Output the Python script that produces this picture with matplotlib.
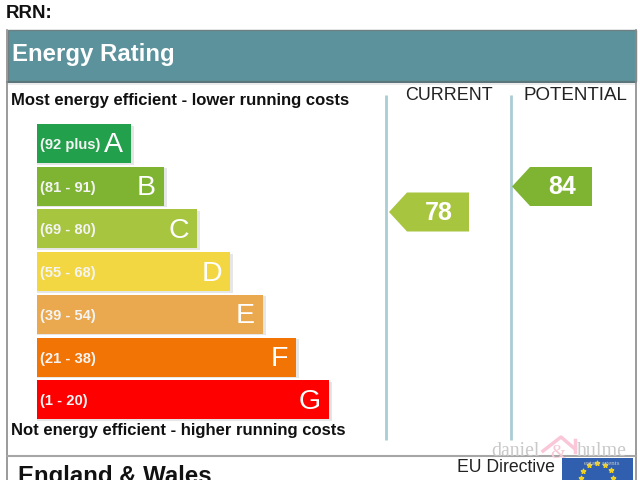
import matplotlib
matplotlib.use('Agg')
import matplotlib.pyplot as plt
import numpy as np
from matplotlib.patches import Polygon, Rectangle

# EPC bands
ranges = ['(92 plus)', '(81 - 91)', '(69 - 80)', '(55 - 68)', '(39 - 54)', '(21 - 38)', '(1 - 20)']
letters = ['A', 'B', 'C', 'D', 'E', 'F', 'G']
bar_ends = [131, 164, 197, 230, 263, 296, 329]
bar_colors = ['#23a04c', '#7fb433', '#a8c540', '#f2d743', '#eaa94e', '#f17405', '#fe0000']

# ratings
rating_names = ['CURRENT', 'POTENTIAL']
rating_values = [78, 84]
rating_colors = ['#a8c540', '#7fb433']

plt.rcParams['font.family'] = ['Liberation Sans', 'DejaVu Sans']

fig = plt.figure(figsize=(6.4, 4.8), dpi=100)
ax = fig.add_axes([0, 0, 1, 1])
ax.set_xlim(0, 640)
ax.set_ylim(480, 0)
ax.axis('off')

# frame and header
ax.text(6, 13.5, 'RRN:', fontsize=13.4, fontweight='bold', va='center', color='#111111')
ax.add_patch(Rectangle((7.5, 30), 628, 51, fc='#5b929c', ec='#6f7f82', lw=1))
ax.add_patch(Rectangle((8, 81), 628, 4, fc='#ececec', ec='none'))
ax.plot([7, 636], [81.5, 81.5], color='#3f5f64', lw=1.2)
ax.plot([7, 7], [30, 480], color='#8a8a8a', lw=1.2)
ax.plot([636, 636], [30, 480], color='#8a8a8a', lw=1.2)
ax.plot([7, 636], [456, 456], color='#a6a6a6', lw=1.5)
ax.text(12, 54.5, 'Energy Rating', fontsize=17.3, fontweight='bold', va='center', color='white')

ax.text(11, 101, 'Most energy efficient - lower running costs', fontsize=12, fontweight='bold',
        va='center', color='#111111')
ax.text(11, 431, 'Not energy efficient - higher running costs', fontsize=12, fontweight='bold',
        va='center', color='#111111')

# bars with soft shadow
y = np.arange(len(letters)) * 42.7 + 143.5
widths = np.array(bar_ends) - 36.5
ax.barh(y + 1.5, widths + 3, height=39, left=36.5, color='#e6e6e6', zorder=1)
ax.barh(y, widths, height=39, left=36.5, color=bar_colors, zorder=2)

for i in range(len(letters)):
    ax.text(40.5, y[i] + 1.5, ranges[i], fontsize=10.6, fontweight='bold', color='#f4f4f4', va='center', zorder=3)
    ax.text(bar_ends[i] - 8, y[i] + 2, letters[i], fontsize=20.5, color='white', ha='right', va='center', zorder=3)

# rating columns
col_x = [386, 511]
name_x = [449, 575.5]
name_size = [12.9, 13.5]
arrow_y = [212, 186.5]
for i in range(2):
    ax.plot([col_x[i], col_x[i]], [95, 440], color='#a9cdd4', lw=2, zorder=1, solid_capstyle='butt')
    ax.text(name_x[i], 96, rating_names[i], fontsize=name_size[i], ha='center', va='center', color='#222222')
    x0 = col_x[i] + (3 if i == 0 else 1)
    yc = arrow_y[i]
    ax.add_patch(Polygon([(x0, yc), (x0 + 18, yc - 19.5), (x0 + 80, yc - 19.5),
                          (x0 + 80, yc + 19.5), (x0 + 18, yc + 19.5)],
                         closed=True, fc=rating_colors[i], ec='none', zorder=2))
    ax.text(x0 + 50, yc + 1, str(rating_values[i]), fontsize=18, fontweight='bold', color='white',
            ha='center', va='center', zorder=3)

# footer
ax.text(18, 477, 'England & Wales', fontsize=17.3, fontweight='bold', va='center', color='#111111')
ax.text(457, 468, 'EU Directive', fontsize=12.7, va='center', color='#222222')
ax.add_patch(Rectangle((562, 458), 71, 22, fc='#2f5fae', ec='none', zorder=2))
ax.scatter([589, 597, 605, 583, 611, 581, 613], [465, 463, 465, 471, 470, 478, 478],
           marker='*', s=11, color='#f0d020', zorder=3)

# watermark
ax.text(491, 452, 'daniel', fontsize=14.2, family=['Liberation Serif'], color='#c9c9c9', ha='left', va='center', zorder=4)
ax.text(577, 452, 'hulme', fontsize=14.4, family=['Liberation Serif'], color='#c9c9c9', ha='left', va='center', zorder=4)
ax.text(558, 453, '&', fontsize=14, family=['Liberation Serif'], color='#f6c9d6', ha='center', va='center', zorder=4)
ax.text(602, 464, 'estate agents', fontsize=5, family=['Liberation Serif'], color='#c9c9c9', ha='center', va='center', zorder=4)
ax.plot([543, 561, 575], [451, 437, 449], color='#f9c7d8', lw=2.5, zorder=4)
ax.plot([575, 575], [440, 452], color='#f9c7d8', lw=2.5, zorder=4)

fig.savefig('out.png', dpi=100)
